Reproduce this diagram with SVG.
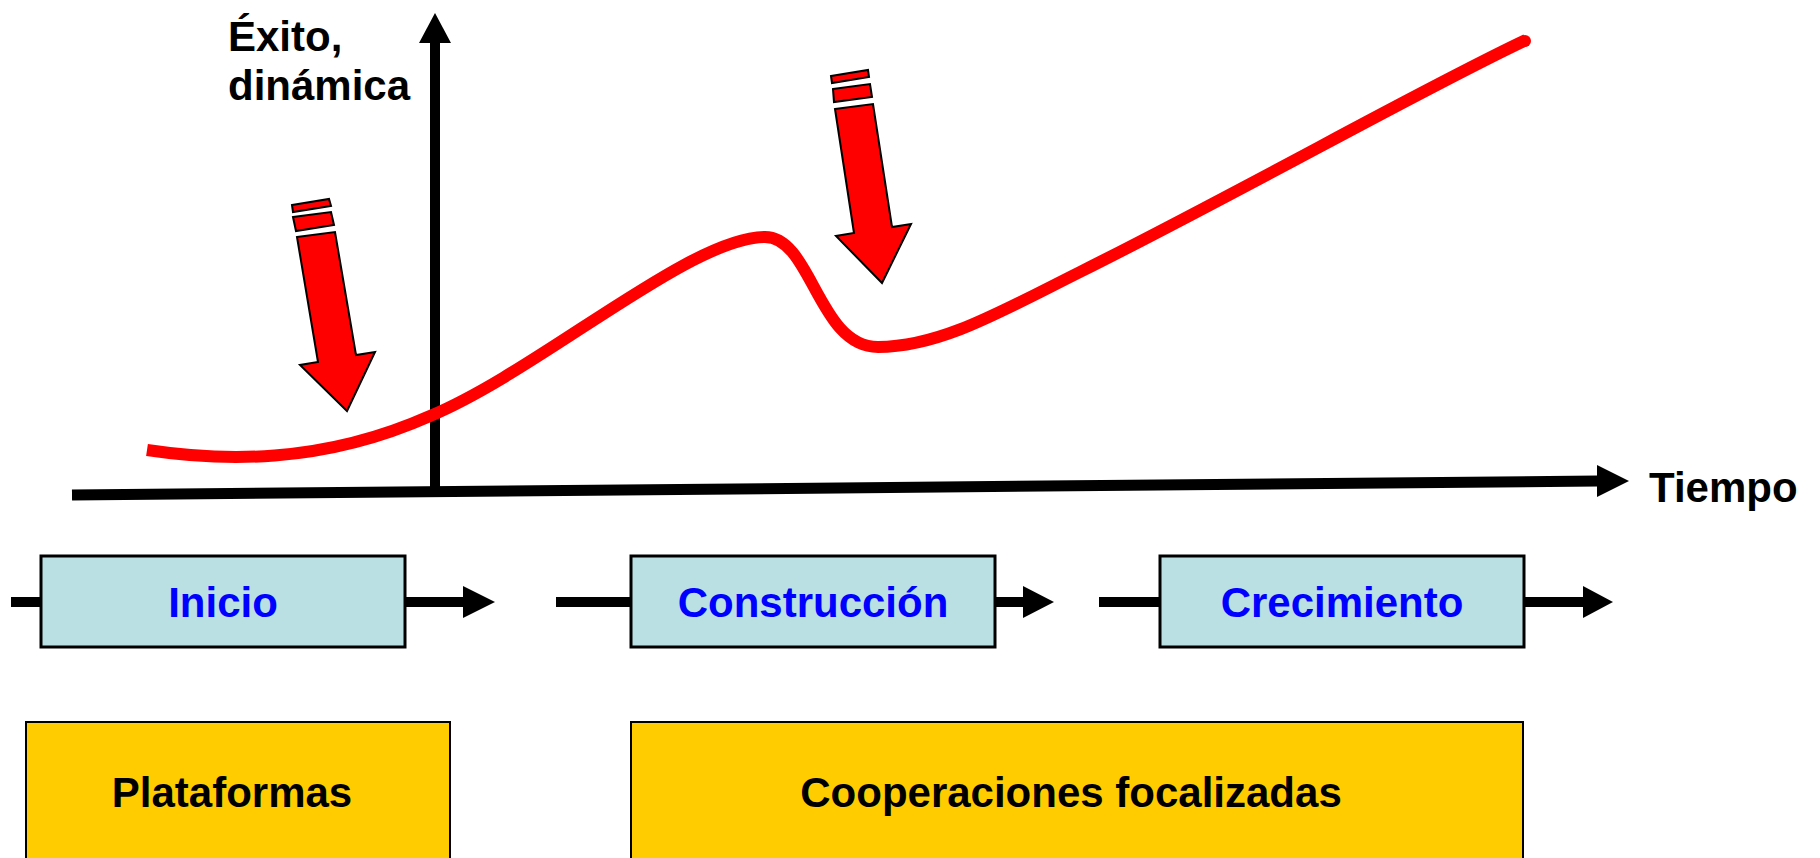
<svg xmlns="http://www.w3.org/2000/svg" width="1820" height="858" viewBox="0 0 1820 858">
<style>
.lbl{font-family:"Liberation Sans",Arial,sans-serif;font-weight:bold;font-size:42px;}
.blue{fill:#0000FF;}
.blk{fill:#000000;}
.phase{fill:#BBE0E3;stroke:#000;stroke-width:3;}
.coop{fill:#FFCC00;stroke:#000;stroke-width:2;}
.ra{fill:#FF0000;stroke:#000;stroke-width:2;stroke-linejoin:miter;}
.conn{stroke:#000;stroke-width:10;fill:none;}
</style>
<rect width="1820" height="858" fill="#FFFFFF"/>
<g id="axes">
  <line x1="435" y1="40" x2="435" y2="492" stroke="#000" stroke-width="10"/>
  <polygon points="419,43 435,13 451,43" fill="#000"/>
  <line x1="72" y1="495" x2="1598" y2="481" stroke="#000" stroke-width="11"/>
  <polygon points="1597,465 1629,481 1597,497" fill="#000"/>
  <text class="lbl blk" x="228" y="51">Éxito,</text>
  <text class="lbl blk" x="228" y="100">dinámica</text>
  <text class="lbl blk" x="1649" y="502">Tiempo</text>
</g>
<g id="curve">
  <path d="M147,450 C220,461 320,465 430,416 C540,370 690,237 765,237 C812,237 818,347 878,347 C940,347 1000,312 1080,272 C1250,187 1420,90 1526,40" fill="none" stroke="#FF0000" stroke-width="12" stroke-linecap="butt"/>
  <circle cx="1525" cy="41" r="6" fill="#FF0000"/>
</g>
<g id="arrow1">
  <polygon class="ra" points="292,205 329,199 331,206 293,212"/>
  <polygon class="ra" points="293,217 331,212 334,225 296,231"/>
  <polygon class="ra" points="297,237 335,232 356,355 375,352 347,411 300,365 318,362"/>
</g>
<g id="arrow2">
  <polygon class="ra" points="831,76 868,70 869,77 832,83"/>
  <polygon class="ra" points="833,89 870,84 872,97 834,102"/>
  <polygon class="ra" points="835,109 873,104 892,227 911,224 882,283 836,236 854,233"/>
</g>
<g id="connectors">
  <line class="conn" x1="11" y1="602" x2="41" y2="602"/>
  <line class="conn" x1="405" y1="602" x2="464" y2="602"/>
  <polygon points="463,586 495,602 463,618" fill="#000"/>
  <line class="conn" x1="556" y1="602" x2="631" y2="602"/>
  <line class="conn" x1="995" y1="602" x2="1024" y2="602"/>
  <polygon points="1023,586 1054,602 1023,618" fill="#000"/>
  <line class="conn" x1="1099" y1="602" x2="1160" y2="602"/>
  <line class="conn" x1="1524" y1="602" x2="1584" y2="602"/>
  <polygon points="1583,586 1613,602 1583,618" fill="#000"/>
</g>
<g id="inicio">
  <rect class="phase" x="41" y="556" width="364" height="91"/>
  <text class="lbl blue" x="223" y="617" text-anchor="middle">Inicio</text>
</g>
<g id="construccion">
  <rect class="phase" x="631" y="556" width="364" height="91"/>
  <text class="lbl blue" x="813" y="617" text-anchor="middle">Construcción</text>
</g>
<g id="crecimiento">
  <rect class="phase" x="1160" y="556" width="364" height="91"/>
  <text class="lbl blue" x="1342" y="617" text-anchor="middle">Crecimiento</text>
</g>
<g id="plataformas">
  <rect class="coop" x="26" y="722" width="424" height="150"/>
  <text class="lbl blk" x="232" y="807" text-anchor="middle">Plataformas</text>
</g>
<g id="cooperaciones">
  <rect class="coop" x="631" y="722" width="892" height="150"/>
  <text class="lbl blk" x="1071" y="807" text-anchor="middle">Cooperaciones focalizadas</text>
</g>
</svg>
